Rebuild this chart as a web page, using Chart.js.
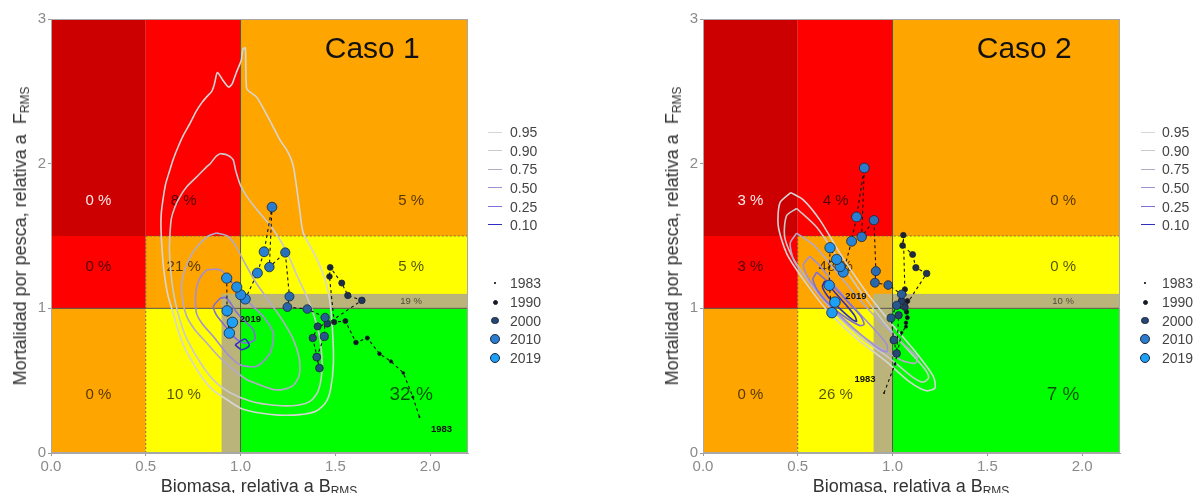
<!DOCTYPE html>
<html>
<head>
<meta charset="utf-8">
<script src="https://cdn.jsdelivr.net/npm/chart.js@4.4.1/dist/chart.umd.min.js"></script>
<style>
  html, body { margin:0; padding:0; background:#fff; }
  body { width:1195px; height:493px; overflow:hidden; position:relative; font-family:"Liberation Sans", Arial, Helvetica, sans-serif; }
  canvas { position:absolute; top:0; }
  .xt { position:absolute; transform:translateX(-50%); font-size:18px; line-height:18px; color:#333; white-space:nowrap; }
  .yt { position:absolute; transform:translate(-50%,-50%) rotate(-90deg); font-size:18px; line-height:18px; color:#333; white-space:nowrap; }
  .xt sub, .yt sub { font-size:12px; line-height:0; vertical-align:-3px; }
  .lg { position:absolute; font-size:14px; line-height:14px; color:#444; white-space:nowrap; transform:translateY(-50%); }
  .ln { position:absolute; height:0; width:14px; border-top-width:1.6px; border-top-style:solid; }
  .dt { position:absolute; border-radius:50%; box-sizing:border-box; }
</style>
</head>
<body>
<canvas id="c1" width="597" height="493" style="left:0;width:597px;height:493px"></canvas>
<canvas id="c2" width="598" height="493" style="left:597px;width:598px;height:493px"></canvas>
<div class="xt" style="left:259px;top:477px">Biomasa, relativa a B<sub>RMS</sub></div>
<div class="xt" style="left:911px;top:477px">Biomasa, relativa a B<sub>RMS</sub></div>
<div class="yt" style="left:20px;top:236px">Mortalidad por pesca, relativa a&nbsp; F<sub>RMS</sub></div>
<div class="yt" style="left:672px;top:236px">Mortalidad por pesca, relativa a&nbsp; F<sub>RMS</sub></div>
<div id="legends"></div>
<script>
// ---------------- DATA ----------------
const xTickValues = [0, 0.5, 1, 1.5, 2];
const xTickLabels = ['0.0', '0.5', '1.0', '1.5', '2.0'];
const yTickValues = [0, 1, 2, 3];
const yTickLabels = ['0', '1', '2', '3'];

// Kobe zones (bottom→top rows, left→right columns)
const zoneX = [0, 0.5, 1, 2.2];
const zoneY = [0, 1, 1.5, 3];
const bandX = [0.9, 1.0];
const bandY = [1.0, 1.1];

const caso1Pct = [['0 %', '10 %', '32 %'], ['0 %', '21 %', '5 %'], ['0 %', '8 %', '5 %']];
const caso1Band = '19 %';
const caso2Pct = [['0 %', '26 %', '7 %'], ['3 %', '48 %', '0 %'], ['3 %', '4 %', '0 %']];
const caso2Band = '10 %';
const pctColX = [0.25, 0.70, 1.90];
const pctRowY = [0.40, 1.29, 1.74];
const bandLabelX = 1.90, bandLabelY = 1.05;

const contourLevels = ['0.95', '0.90', '0.75', '0.50', '0.25', '0.10'];
const legendYears = ['1983', '1990', '2000', '2010', '2019'];

// Trajectory Caso 1 (1983 → 2019)
const case1X = [1.944,1.909,1.859,1.794,1.733,1.669,1.609,1.553,1.494,1.469,1.473,1.534,1.566,1.640,1.458,1.407,1.381,1.416,1.402,1.442,1.446,1.352,1.247,1.258,1.236,1.152,1.166,1.124,1.089,1.025,1.001,0.980,0.927,0.929,0.941,0.957];
const case1Y = [0.249,0.387,0.553,0.633,0.686,0.795,0.764,0.912,0.905,1.220,1.283,1.175,1.089,1.055,0.894,0.875,0.795,0.587,0.663,0.806,0.937,0.995,1.009,1.082,1.386,1.285,1.700,1.391,1.244,1.064,1.094,1.147,1.209,0.983,0.829,0.903];

// Trajectory Caso 2 (1983 → 2019)
const case2X = [0.955,1.013,1.048,1.071,1.071,1.078,1.074,1.078,1.065,1.057,1.053,1.106,1.123,1.180,1.065,1.048,1.032,1.022,1.007,0.992,1.022,1.048,0.977,0.907,0.912,0.902,0.837,0.851,0.810,0.784,0.740,0.723,0.705,0.670,0.666,0.680,0.696];
const case2Y = [0.414,0.614,0.832,0.874,0.900,0.936,0.975,1.050,1.131,1.506,1.434,1.372,1.281,1.241,1.009,1.050,0.952,0.688,0.781,0.933,1.021,1.097,1.161,1.177,1.257,1.609,1.494,1.970,1.632,1.464,1.250,1.288,1.338,1.419,1.159,0.970,1.043];

// Density contours Caso 1
const c1_95X = [1.000,0.975,0.955,0.936,0.905,0.878,0.862,0.848,0.820,0.795,0.765,0.734,0.700,0.672,0.645,0.628,0.605,0.593,0.582,0.580,0.584,0.593,0.615,0.646,0.670,0.700,0.750,0.804,0.860,0.927,1.000,1.103,1.200,1.314,1.400,1.450,1.475,1.490,1.485,1.470,1.450,1.420,1.380,1.331,1.310,1.279,1.250,1.208,1.150,1.085,1.045,1.032,1.028,1.025,1.012,1.005,1.000];
const c1_95Y = [2.700,2.620,2.550,2.530,2.580,2.630,2.550,2.500,2.460,2.420,2.360,2.280,2.200,2.120,2.030,1.960,1.860,1.770,1.660,1.570,1.450,1.290,1.100,0.960,0.850,0.740,0.620,0.510,0.430,0.370,0.310,0.276,0.262,0.265,0.290,0.350,0.440,0.620,0.850,1.060,1.180,1.290,1.400,1.520,1.700,1.980,2.080,2.165,2.310,2.460,2.500,2.520,2.650,2.800,2.790,2.720,2.700];
const c1_90X = [0.892,0.870,0.840,0.822,0.770,0.716,0.680,0.654,0.635,0.628,0.625,0.632,0.650,0.680,0.720,0.790,0.860,0.940,1.050,1.180,1.300,1.370,1.410,1.430,1.420,1.390,1.350,1.300,1.240,1.170,1.100,1.040,1.000,0.975,0.960,0.930,0.892];
const c1_90Y = [2.070,2.050,2.000,1.980,1.910,1.840,1.770,1.700,1.620,1.520,1.400,1.250,1.080,0.920,0.780,0.620,0.500,0.420,0.360,0.330,0.330,0.360,0.430,0.580,0.780,0.940,1.080,1.220,1.400,1.550,1.660,1.760,1.850,1.950,2.030,2.060,2.070];
const c1_75X = [0.874,0.830,0.780,0.745,0.710,0.690,0.695,0.716,0.760,0.822,0.890,0.962,1.030,1.103,1.170,1.226,1.280,1.310,1.310,1.280,1.220,1.150,1.080,1.020,0.970,0.930,0.874];
const c1_75Y = [1.520,1.500,1.440,1.380,1.280,1.175,1.050,0.944,0.850,0.760,0.660,0.576,0.510,0.470,0.440,0.440,0.470,0.540,0.650,0.780,0.920,1.050,1.180,1.320,1.440,1.500,1.520];
const c1_50X = [0.822,0.790,0.769,0.762,0.769,0.800,0.860,0.927,0.997,1.085,1.156,1.173,1.120,1.060,1.000,0.945,0.892,0.822];
const c1_50Y = [1.267,1.220,1.150,1.050,0.960,0.890,0.800,0.690,0.610,0.600,0.690,0.830,0.944,1.020,1.100,1.200,1.267,1.267];
const c1_25X = [0.892,0.857,0.870,0.892,0.930,0.962,1.000,1.032,1.076,1.067,1.015,0.975,0.945,0.920,0.892];
const c1_25Y = [1.070,1.013,0.960,0.920,0.860,0.806,0.770,0.760,0.783,0.852,0.920,0.980,1.040,1.075,1.070];
const c1_10X = [0.971,1.024,1.046,1.006,0.971];
const c1_10Y = [0.748,0.788,0.741,0.714,0.748];

// Density contours Caso 2
const c2_95X = [0.463,0.406,0.397,0.441,0.529,0.652,0.811,0.969,1.092,1.180,1.224,1.215,1.127,1.004,0.863,0.723,0.617,0.529,0.463];
const c2_95Y = [1.800,1.730,1.570,1.380,1.200,0.990,0.790,0.630,0.490,0.430,0.450,0.530,0.690,0.880,1.110,1.380,1.610,1.750,1.800];
const c2_90X = [0.494,0.441,0.430,0.470,0.560,0.680,0.830,0.980,1.100,1.160,1.190,1.170,1.090,0.970,0.840,0.710,0.600,0.494];
const c2_90Y = [1.690,1.640,1.500,1.360,1.180,0.990,0.800,0.660,0.530,0.490,0.520,0.580,0.700,0.880,1.100,1.350,1.560,1.690];
const c2_75X = [0.494,0.460,0.480,0.560,0.670,0.800,0.930,1.050,1.120,1.130,1.060,0.940,0.820,0.700,0.590,0.494];
const c2_75Y = [1.520,1.450,1.330,1.180,1.010,0.850,0.730,0.640,0.620,0.660,0.750,0.900,1.070,1.260,1.430,1.520];
const c2_50X = [0.564,0.530,0.560,0.640,0.740,0.850,0.940,0.970,0.970,0.900,0.800,0.700,0.620,0.564];
const c2_50Y = [1.360,1.300,1.200,1.070,0.930,0.800,0.710,0.700,0.750,0.860,1.000,1.150,1.290,1.360];
const c2_25X = [0.600,0.580,0.610,0.680,0.760,0.830,0.850,0.830,0.760,0.680,0.600];
const c2_25Y = [1.250,1.200,1.110,1.010,0.930,0.880,0.890,0.950,1.050,1.160,1.250];
const c2_10X = [0.643,0.630,0.660,0.720,0.790,0.810,0.800,0.750,0.690,0.643];
const c2_10Y = [1.190,1.150,1.080,1.000,0.920,0.910,0.950,1.030,1.120,1.190];

// ---------------- STYLE ----------------
const FONT = '"Liberation Sans", Arial, Helvetica, sans-serif';
const zoneColors = [
  ['#ffa500', '#ffff00', '#00ff00'],
  ['#ff0000', '#ffa500', '#ffff00'],
  ['#cc0000', '#ff0000', '#ffa500']
];
const bandColor = '#bab47b';
const contourColors = ['#d6d6d6', '#cacaca', '#b4abc9', '#a08fd6', '#7f6fd6', '#2e2ec0'];
const yrAnchors = [1983, 1990, 2000, 2010, 2019];
const radAnchors = [0.9, 2.5, 3.8, 4.9, 5.3];
const colAnchors = [[0,0,0],[22,22,30],[38,72,118],[42,124,206],[28,160,248]];

function interp(arr, yr) {
  if (yr <= yrAnchors[0]) return arr[0];
  for (let i = 1; i < yrAnchors.length; i++) {
    if (yr <= yrAnchors[i]) {
      const t = (yr - yrAnchors[i-1]) / (yrAnchors[i] - yrAnchors[i-1]);
      const a = arr[i-1], b = arr[i];
      if (Array.isArray(a)) return a.map((v, k) => v + (b[k] - v) * t);
      return a + (b - a) * t;
    }
  }
  return arr[arr.length - 1];
}
const radiusForYear = yr => interp(radAnchors, yr);
const colorForYear = yr => { const c = interp(colAnchors, yr).map(Math.round); return `rgb(${c[0]},${c[1]},${c[2]})`; };
const yearAt = (i, n) => 1983 + (2019 - 1983) * i / (n - 1);

const toPts = (xs, ys) => xs.map((x, i) => ({ x: x, y: ys[i] }));

function contourDataset(xs, ys, k) {
  return {
    label: contourLevels[k], data: toPts(xs, ys), showLine: true, fill: false,
    borderColor: contourColors[k], borderWidth: 1.6, pointRadius: 0, tension: 0.25,
    order: 10 - k
  };
}
function trajDataset(xs, ys) {
  const n = xs.length;
  return {
    label: 'Trayectoria', data: toPts(xs, ys), showLine: true, fill: false,
    borderColor: '#111', borderWidth: 1.1, borderDash: [3, 3], tension: 0,
    pointRadius: ctx => radiusForYear(yearAt(ctx.dataIndex, n)),
    pointBackgroundColor: ctx => colorForYear(yearAt(ctx.dataIndex, n)),
    pointBorderColor: '#1b2536',
    pointBorderWidth: ctx => (ctx.dataIndex === 0 ? 0 : 0.8),
    order: 0
  };
}

const kobePlugin = {
  id: 'kobe',
  beforeDatasetsDraw(chart, args, o) {
    const { ctx, chartArea: a, scales: { x, y } } = chart;
    const px = v => x.getPixelForValue(v), py = v => y.getPixelForValue(v);
    ctx.save();
    for (let r = 0; r < 3; r++) for (let c = 0; c < 3; c++) {
      const x0 = px(zoneX[c]), x1 = px(zoneX[c+1]), y0 = py(zoneY[r]), y1 = py(zoneY[r+1]);
      ctx.fillStyle = zoneColors[r][c];
      ctx.fillRect(x0, y1, x1 - x0, y0 - y1);
    }
    ctx.fillStyle = bandColor;
    ctx.fillRect(px(bandX[0]), py(bandY[1]), px(bandX[1]) - px(bandX[0]), py(0) - py(bandY[1]));
    ctx.fillRect(px(bandX[0]), py(bandY[1]), px(2.2) - px(bandX[0]), py(bandY[0]) - py(bandY[1]));
    // dotted limits
    ctx.strokeStyle = '#555'; ctx.lineWidth = 0.8; ctx.setLineDash([2, 2]);
    ctx.beginPath();
    ctx.moveTo(px(0.5), py(1.5)); ctx.lineTo(px(2.2), py(1.5));
    ctx.moveTo(px(0.5), py(0)); ctx.lineTo(px(0.5), py(1.5));
    ctx.stroke();
    ctx.setLineDash([]);
    ctx.strokeStyle = '#4a4a4a'; ctx.lineWidth = 0.9;
    ctx.beginPath();
    ctx.moveTo(px(1), py(0)); ctx.lineTo(px(1), py(3));
    ctx.moveTo(px(0), py(1)); ctx.lineTo(px(2.2), py(1));
    ctx.stroke();
    // percentages
    ctx.textAlign = 'center'; ctx.textBaseline = 'middle';
    for (let r = 0; r < 3; r++) for (let c = 0; c < 3; c++) {
      const big = (r === 0 && c === 2);
      ctx.font = (big ? '19px ' : '15px ') + FONT;
      ctx.fillStyle = (r === 2 && c === 0) ? 'rgba(255,255,255,0.92)' : 'rgba(0,0,0,0.68)';
      ctx.fillText(o.pct[r][c], px(pctColX[c]), py(pctRowY[r]));
    }
    ctx.font = '9.5px ' + FONT; ctx.fillStyle = 'rgba(0,0,0,0.6)';
    ctx.fillText(o.band, px(bandLabelX), py(bandLabelY));
    ctx.font = '30px ' + FONT; ctx.fillStyle = '#111';
    ctx.fillText(o.title, px(1.695), py(2.79));
    ctx.restore();
  },
  afterDatasetsDraw(chart, args, o) {
    const { ctx, chartArea: a } = chart;
    const meta = chart.getDatasetMeta(0);
    const pts = meta.data;
    ctx.save();
    ctx.font = 'bold 9.5px ' + FONT; ctx.fillStyle = '#111';
    ctx.textAlign = 'center'; ctx.textBaseline = 'middle';
    const p0 = pts[0], p1 = pts[pts.length - 1];
    ctx.fillText('1983', p0.x + o.off0[0], p0.y + o.off0[1]);
    ctx.fillText('2019', p1.x + o.off1[0], p1.y + o.off1[1]);
    ctx.strokeStyle = '#a8a8a8'; ctx.lineWidth = 1;
    ctx.strokeRect(a.left + 0.5, a.top + 0.5, a.right - a.left - 1, a.bottom - a.top - 1);
    ctx.restore();
  }
};

function makeScales() {
  return {
    x: {
      type: 'linear', min: 0, max: 2.2,
      afterBuildTicks: s => { s.ticks = xTickValues.map(v => ({ value: v })); },
      afterFit: s => { s.height = 40; },
      ticks: { callback: (v, i) => xTickLabels[i], color: '#8a8a8a', font: { size: 15, family: FONT }, padding: 2, maxRotation: 0, autoSkip: false },
      grid: { display: true, drawOnChartArea: false, drawTicks: true, tickLength: 3, tickColor: '#999' },
      border: { display: true, color: '#a8a8a8' }
    },
    y: {
      type: 'linear', min: 0, max: 3,
      afterBuildTicks: s => { s.ticks = yTickValues.map(v => ({ value: v })); },
      afterFit: s => { s.width = 51; },
      ticks: { callback: (v, i) => yTickLabels[i], color: '#8a8a8a', font: { size: 15, family: FONT }, padding: 2, autoSkip: false },
      grid: { display: true, drawOnChartArea: false, drawTicks: true, tickLength: 3, tickColor: '#999' },
      border: { display: true, color: '#a8a8a8' }
    }
  };
}

function makeChart(id, padding, trajX, trajY, contours, kobeOpts) {
  const datasets = [trajDataset(trajX, trajY)];
  contours.forEach((c, k) => datasets.push(contourDataset(c[0], c[1], k)));
  return new Chart(document.getElementById(id), {
    type: 'scatter',
    data: { datasets: datasets },
    options: {
      responsive: false, animation: false, devicePixelRatio: 1, events: [],
      layout: { padding: padding },
      plugins: { legend: { display: false }, tooltip: { enabled: false }, kobe: kobeOpts },
      scales: makeScales()
    },
    plugins: [kobePlugin]
  });
}

makeChart('c1', { left: 0, top: 19, right: 129, bottom: 0 }, case1X, case1Y,
  [[c1_95X, c1_95Y], [c1_90X, c1_90Y], [c1_75X, c1_75Y], [c1_50X, c1_50Y], [c1_25X, c1_25Y], [c1_10X, c1_10Y]],
  { pct: caso1Pct, band: caso1Band, title: 'Caso 1', off0: [22, 12], off1: [18, -3] });

makeChart('c2', { left: 55, top: 19, right: 75, bottom: 0 }, case2X, case2Y,
  [[c2_95X, c2_95Y], [c2_90X, c2_90Y], [c2_75X, c2_75Y], [c2_50X, c2_50Y], [c2_25X, c2_25Y], [c2_10X, c2_10Y]],
  { pct: caso2Pct, band: caso2Band, title: 'Caso 2', off0: [-19, -14], off1: [21, -6] });

// ---------------- LEGENDS (HTML) ----------------
const legendLineRows = [132.3, 151, 169.3, 188, 206.7, 225];
const legendYearRows = [283.3, 302.3, 320.7, 339.3, 358];
function buildLegend(lineX, textX, dotX) {
  const host = document.getElementById('legends');
  contourLevels.forEach((lab, i) => {
    const yv = legendLineRows[i];
    const ln = document.createElement('div');
    ln.className = 'ln';
    ln.style.left = lineX + 'px'; ln.style.top = (yv - 0.8) + 'px'; ln.style.borderTopColor = contourColors[i];
    host.appendChild(ln);
    const tx = document.createElement('div');
    tx.className = 'lg'; tx.style.left = textX + 'px'; tx.style.top = yv + 'px'; tx.textContent = lab;
    host.appendChild(tx);
  });
  legendYears.forEach((lab, i) => {
    const yv = legendYearRows[i];
    const yr = parseInt(lab, 10);
    const r = radiusForYear(yr);
    const dt = document.createElement('div');
    dt.className = 'dt';
    dt.style.left = (dotX - r) + 'px'; dt.style.top = (yv - r) + 'px';
    dt.style.width = (2 * r) + 'px'; dt.style.height = (2 * r) + 'px';
    dt.style.background = colorForYear(yr);
    if (i > 0) dt.style.border = '0.8px solid #1b2536';
    host.appendChild(dt);
    const tx = document.createElement('div');
    tx.className = 'lg'; tx.style.left = textX + 'px'; tx.style.top = yv + 'px'; tx.textContent = lab;
    host.appendChild(tx);
  });
}
buildLegend(488, 510, 495);
buildLegend(1141, 1162, 1145);
</script>
</body>
</html>
